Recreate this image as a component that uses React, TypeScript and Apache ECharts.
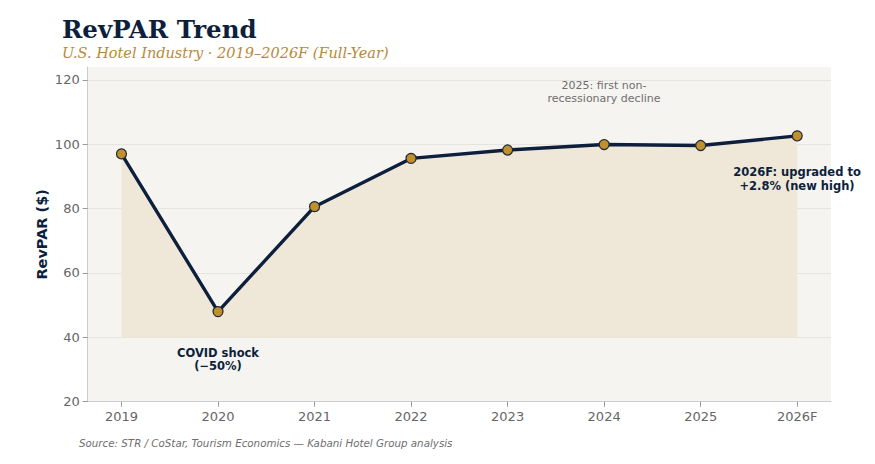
import React, { useEffect, useRef } from "react";
import * as echarts from "echarts";

const categories = ["2019", "2020", "2021", "2022", "2023", "2024", "2025", "2026F"];
const revpar = [97.0, 48.0, 80.6, 95.6, 98.2, 99.9, 99.6, 102.6];
const yTicks = [20, 40, 60, 80, 100, 120];

const NAVY = "#0d1f3c";
const GOLD = "#c0902c";

export default function App() {
  const ref = useRef<HTMLDivElement>(null);
  useEffect(() => {
    if (!ref.current) return;
    const chart = echarts.init(ref.current, null, { renderer: "svg" });
    const xIdx = categories.map((_, i) => i);
    chart.setOption({
      animation: false,
      backgroundColor: "#ffffff",
      grid: { left: 87.7, right: 44, top: 67, bottom: 62.3, show: true, backgroundColor: "#f5f4f0", borderWidth: 0 },
      xAxis: {
        type: "value",
        min: -0.35,
        max: 7.35,
        axisLine: { show: true, onZero: false, lineStyle: { color: "#cccccc", width: 1 } },
        axisTick: { show: true, customValues: xIdx, length: 5, lineStyle: { color: "#999999" } },
        axisLabel: {
          customValues: xIdx,
          formatter: (v: number) => categories[Math.round(v)] ?? "",
          color: "#666666",
          fontSize: 13,
          fontFamily: "DejaVu Sans",
          margin: 8,
        },
        splitLine: { show: false },
      },
      yAxis: {
        type: "value",
        min: 20,
        max: 124,
        interval: 20,
        name: "RevPAR ($)",
        nameLocation: "middle",
        nameGap: 38,
        nameMoveOverlap: false,
        nameTextStyle: { color: NAVY, fontSize: 14.5, fontWeight: "bold", fontFamily: "DejaVu Sans" },
        axisLine: { show: true, onZero: false, lineStyle: { color: "#cccccc", width: 1 } },
        axisTick: { show: true, customValues: yTicks, length: 5, lineStyle: { color: "#999999" } },
        axisLabel: {
          customValues: yTicks,
          color: "#666666",
          fontSize: 13,
          fontFamily: "DejaVu Sans",
          margin: 8,
        },
        splitLine: {
          show: true,
          lineStyle: {
            color: ["#e6e4df", "#e6e4df", "#e6e4df", "#e6e4df", "#e6e4df", "#e6e4df", "rgba(0,0,0,0)"],
            width: 1,
          },
        },
      },
      series: [
        {
          type: "line",
          data: revpar.map((v, i) => [i, v]),
          symbol: "circle",
          symbolSize: 10,
          itemStyle: { color: GOLD, borderColor: "#1f2838", borderWidth: 1.2 },
          lineStyle: { color: NAVY, width: 3.4 },
          areaStyle: { origin: 40, color: "#efe7d8", opacity: 1 },
          z: 3,
        },
      ],
      graphic: [
        {
          type: "text",
          left: 62,
          top: 17,
          z: 100,
          style: { text: "RevPAR Trend", fill: NAVY, font: "bold 24.5px 'DejaVu Serif'" },
        },
        {
          type: "text",
          left: 62,
          top: 45,
          z: 100,
          style: { text: "U.S. Hotel Industry · 2019–2026F (Full-Year)", fill: "#b8893a", font: "italic 14.5px 'DejaVu Serif'" },
        },
        {
          type: "text",
          x: 218,
          y: 359.5,
          z: 100,
          style: {
            text: "COVID shock\n(−50%)",
            fill: NAVY,
            font: "bold 11.5px 'DejaVu Sans'",
            align: "center",
            verticalAlign: "middle",
            lineHeight: 13.5,
          },
        },
        {
          type: "text",
          x: 604,
          y: 92,
          z: 100,
          style: {
            text: "2025: first non-\nrecessionary decline",
            fill: "#6e6e6e",
            font: "11px 'DejaVu Sans'",
            align: "center",
            verticalAlign: "middle",
            lineHeight: 13.5,
          },
        },
        {
          type: "text",
          x: 797,
          y: 179,
          z: 100,
          style: {
            text: "2026F: upgraded to\n+2.8% (new high)",
            fill: NAVY,
            font: "bold 11.5px 'DejaVu Sans'",
            align: "center",
            verticalAlign: "middle",
            lineHeight: 14,
          },
        },
        {
          type: "text",
          left: 79,
          top: 438,
          z: 100,
          style: {
            text: "Source: STR / CoStar, Tourism Economics — Kabani Hotel Group analysis",
            fill: "#6e6e6e",
            font: "italic 10.3px 'DejaVu Sans'",
          },
        },
      ],
    });
    return () => chart.dispose();
  }, []);
  return <div ref={ref} style={{ width: 875, height: 464, position: "absolute", left: 0, top: 0 }} />;
}
